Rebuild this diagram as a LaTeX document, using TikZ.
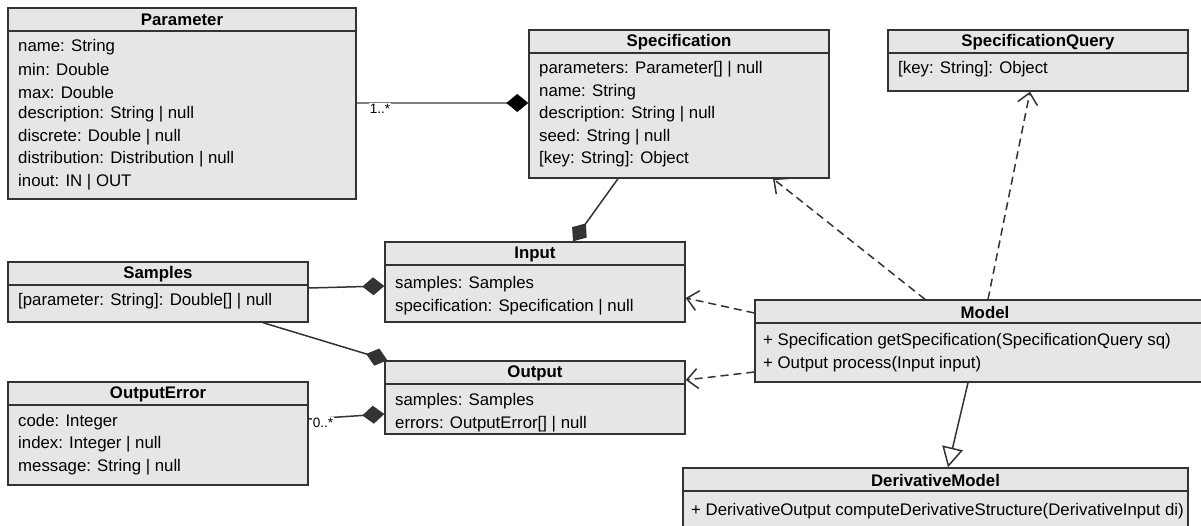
\documentclass[tikz,border=0pt]{standalone}
\usepackage{fontspec}
\setmainfont{Liberation Sans}
\usetikzlibrary{arrows.meta,fit,calc}
\definecolor{boxfill}{HTML}{E6E6E6}
\definecolor{edgecol}{HTML}{333333}
\definecolor{assoc}{HTML}{808080}
\tikzset{
  cls/.style={draw=edgecol, fill=boxfill, line width=1.4pt, inner sep=0pt, rectangle},
  sep/.style={draw=edgecol, line width=1.4pt},
  ttl/.style={font=\fontsize{16.8}{19}\selectfont\bfseries, inner sep=0pt, anchor=center},
  attr/.style={font=\fontsize{16.8}{19}\selectfont, inner sep=0pt, anchor=west},
  comp/.style={draw=edgecol, line width=1.5pt, -{Diamond[length=22pt,width=18pt]}},
  compg/.style={draw=assoc, line width=2.2pt, -{Diamond[length=22pt,width=18pt,color=black]}},
  dep/.style={draw=edgecol, line width=1.5pt, dash pattern=on 8pt off 5pt, -{Straight Barb[length=11pt,width=20pt,line width=1.5pt]}},
  gen/.style={draw=edgecol, line width=1.5pt, -{Triangle[open,length=20pt,width=21pt,fill=white,line width=1.5pt]}},
  mult/.style={font=\fontsize{13.5}{14}\selectfont, inner sep=1pt, fill=white},
}
\newcommand{\umlcls}[7]{%
  \node[cls, fit={(#2,#3) (#4,#5)}] (#1) {};
  \draw[sep] (#2,#6) -- (#4,#6);
  \node[ttl] (#1-t) at ({(#2+#4)/2},{(#3+#6)/2+0.5}) {#7};
}
\begin{document}
\begin{tikzpicture}[x=1pt,y=-1pt]
\useasboundingbox[fill=white] (0,0) rectangle (1201,526);

% Parameter
\umlcls{param}{8}{8}{356}{199}{31}{Parameter}
\node[attr] (pa1) at (18,47) {name: String};
\node[attr] (pa2) at (18,69.5) {min: Double};
\node[attr] (pa3) at (18,92) {max: Double};
\node[attr] (pa4) at (18,114.5) {description: String | null};
\node[attr] (pa5) at (18,137) {discrete: Double | null};
\node[attr] (pa6) at (18,159.5) {distribution: Distribution | null};
\node[attr] (pa7) at (18,182) {inout: IN | OUT};

% Specification
\umlcls{spec}{529}{30}{829}{178}{53}{Specification}
\node[attr] (sp1) at (539,69.5) {parameters: Parameter[] | null};
\node[attr] (sp2) at (539,92) {name: String};
\node[attr] (sp3) at (539,114.5) {description: String | null};
\node[attr] (sp4) at (539,137) {seed: String | null};
\node[attr] (sp5) at (539,159.5) {[key: String]: Object};

% SpecificationQuery
\umlcls{sq}{888}{30}{1188}{91}{53}{SpecificationQuery}
\node[attr] (sq1) at (898,69.5) {[key: String]: Object};

% Samples
\umlcls{samples}{8}{262}{308}{322}{285}{Samples}
\node[attr] (sa1) at (18,301) {[parameter: String]: Double[] | null};

% Input
\umlcls{input}{385}{242}{685}{322}{265}{Input}
\node[attr] (in1) at (395,284.5) {samples: Samples};
\node[attr] (in2) at (395,307) {specification: Specification | null};

% Output
\umlcls{output}{385}{361}{685}{434}{384}{Output}
\node[attr] (ou1) at (395,401.5) {samples: Samples};
\node[attr] (ou2) at (395,424) {errors: OutputError[] | null};

% OutputError
\umlcls{oerr}{8}{382}{308}{485}{405}{OutputError}
\node[attr] (oe1) at (18,422) {code: Integer};
\node[attr] (oe2) at (18,444.5) {index: Integer | null};
\node[attr] (oe3) at (18,467) {message: String | null};

% Model
\umlcls{model}{755}{300}{1215}{382}{323}{Model}
\node[attr] (mo1) at (763,341.5) {+ Specification getSpecification(SpecificationQuery sq)};
\node[attr] (mo2) at (763,364) {+ Output process(Input input)};

% DerivativeModel
\umlcls{dm}{683}{468}{1188}{545}{491}{DerivativeModel}
\node[attr] (dm1) at (691,511) {+ DerivativeOutput computeDerivativeStructure(DerivativeInput di)};

% connectors
\draw[compg] (param.east |- 0,103) -- (spec.west |- 0,103);
\node[mult] (m1) at (380,109) {1..*};

\draw[comp] (spec.south -| 618,0) -- (input.north -| 573,0);
\draw[comp] (samples.east |- 0,288) -- (input.west |- 0,286);
\draw[comp] (samples.south -| 263,0) -- ([xshift=3pt]output.north west);
\draw[comp] (oerr.east |- 0,419) -- (output.west |- 0,414);
\node[mult] (m2) at (323,423) {0..*};

\draw[dep] (model.west |- 0,313) -- (input.east |- 0,298);
\draw[dep] (model.west |- 0,372) -- (output.east |- 0,380);
\draw[dep] (model.north -| 925,0) -- (spec.south -| 773,0);
\draw[dep] (model.north -| 988,0) -- (sq.south -| 1030,0);
\draw[gen] (model.south -| 968,0) -- (dm.north -| 948,0);
\end{tikzpicture}
\end{document}
